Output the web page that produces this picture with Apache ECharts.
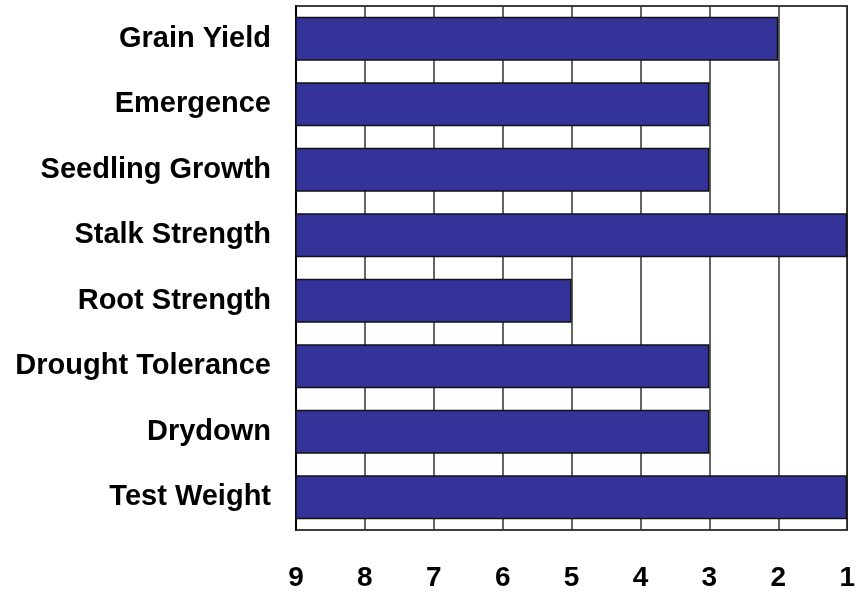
<!DOCTYPE html>
<html>
<head>
<meta charset="utf-8">
<script src="https://cdn.jsdelivr.net/npm/echarts@6/dist/echarts.min.js"></script>
<style>html,body{margin:0;padding:0;background:#fff;}#c{width:858px;height:592px;}</style>
</head>
<body>
<div id="c"></div>
<script>
var categories = ["Grain Yield","Emergence","Seedling Growth","Stalk Strength","Root Strength","Drought Tolerance","Drydown","Test Weight"];
var ratings = [2,3,3,1,5,3,3,1];
var tickLabels = [9,8,7,6,5,4,3,2,1];

var chart = echarts.init(document.getElementById('c'), null, {renderer:'canvas'});
chart.setOption({
  animation:false,
  backgroundColor:'#ffffff',
  grid:{left:296,right:6,top:6,bottom:59,show:true,borderColor:'#000',borderWidth:1.5,backgroundColor:'transparent'},
  xAxis:{
    type:'value', min:1, max:9, interval:1,
    axisLine:{show:false}, axisTick:{show:false},
    splitLine:{show:true,lineStyle:{color:'#333',width:1.5}},
    axisLabel:{margin:34,color:'#000',fontWeight:'bold',fontSize:28,fontFamily:'Liberation Sans, Arial, sans-serif',
      formatter:function(v){ return String(tickLabels[v-1]); }}
  },
  yAxis:{
    type:'category', data:categories, inverse:true,
    axisLine:{show:true,lineStyle:{color:'#000',width:2}}, axisTick:{show:false},
    axisLabel:{margin:25,color:'#000',fontWeight:'bold',fontSize:29,fontFamily:'Liberation Sans, Arial, sans-serif'}
  },
  series:[{
    type:'bar',
    data:ratings.map(function(r){return 10-r;}),
    barCategoryGap:'33%',
    itemStyle:{color:'#333399',borderColor:'#111',borderWidth:1.5},
    clip:true
  }]
});
</script>
</body>
</html>
